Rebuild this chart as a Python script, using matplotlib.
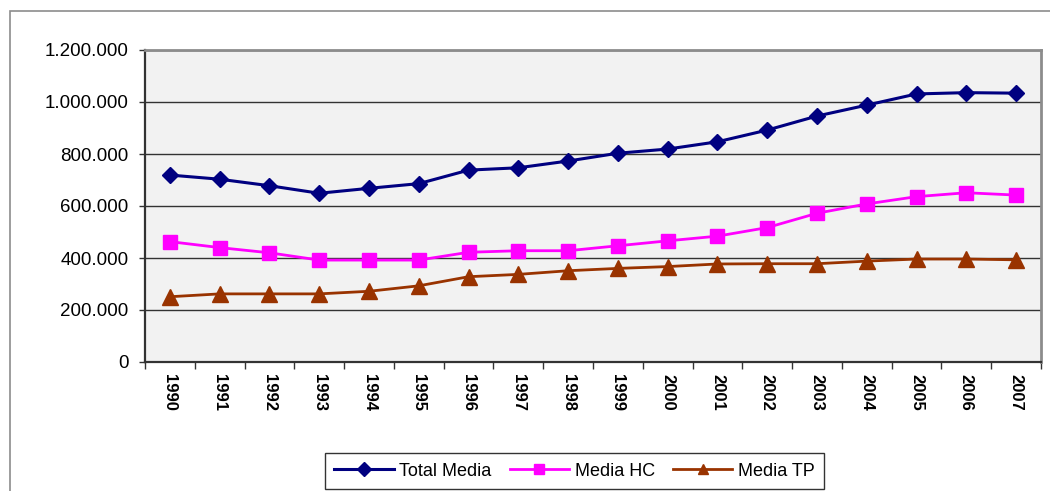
import numpy as np
import matplotlib
matplotlib.use("Agg")
import matplotlib.pyplot as plt
from matplotlib.ticker import FuncFormatter, FixedLocator
from matplotlib.patches import Rectangle

plt.rcParams['font.family'] = ['Liberation Sans', 'DejaVu Sans']

## data
years = [str(y) for y in range(1990, 2008)]
total_media = [719000, 703000, 678000, 649000, 668000, 686000, 738000, 747000, 773000,
               803000, 819000, 847000, 892000, 946000, 988000, 1031000, 1036000, 1034000]
media_hc = [463000, 440000, 420000, 392000, 392000, 392000, 422000, 428000, 428000,
            447000, 466000, 484000, 517000, 572000, 608000, 636000, 651000, 642000]
media_tp = [251000, 262000, 262000, 262000, 272000, 293000, 328000, 337000, 351000,
            360000, 367000, 377000, 378000, 378000, 388000, 396000, 396000, 393000]

fig = plt.figure(figsize=(10.5, 4.91), dpi=100)
fig.patch.set_facecolor('white')
# outer chart border
fig.patches.append(Rectangle((10/1050, -0.1), 1.2, 1 - 11/491 + 0.1,
                             transform=fig.transFigure, fill=False,
                             edgecolor='#8c8c8c', lw=1.2))

ax = fig.add_axes([145/1050, 1 - 362/491, (1041 - 145)/1050, (362 - 50)/491])
ax.set_facecolor('#F2F2F2')

x = np.arange(len(years))
ax.plot(x, total_media, color='#000080', lw=2.2, marker='D', ms=8,
        label='Total Media', zorder=5)
ax.plot(x, media_hc, color='#FF00FF', lw=2, marker='s', ms=10,
        label='Media HC', zorder=4)
ax.plot(x, media_tp, color='#993300', lw=2, marker='^', ms=11,
        label='Media TP', zorder=3)

ax.set_xlim(-0.5, len(years) - 0.5)
ax.set_ylim(0, 1200000)
ax.set_yticks(np.arange(0, 1200001, 200000))
ax.yaxis.set_major_formatter(FuncFormatter(lambda v, p: f"{int(v):,}".replace(',', '.')))
ax.grid(axis='y', color='#333333', lw=1)
ax.set_axisbelow(True)

ax.set_xticks(x)
ax.set_xticklabels(years, rotation=270, fontsize=12, fontweight='bold')
ax.xaxis.set_minor_locator(FixedLocator(np.arange(-0.5, len(years), 1)))
ax.tick_params(axis='x', which='major', length=0, pad=9)
ax.tick_params(axis='x', which='minor', length=5, width=1, color='#333333')
ax.tick_params(axis='y', length=4, width=1, color='#333333', pad=8, labelsize=13.5)

for s in ('left', 'bottom'):
    ax.spines[s].set_color('#333333')
    ax.spines[s].set_linewidth(1.6)
for s in ('top', 'right'):
    ax.spines[s].set_color('#8c8c8c')
    ax.spines[s].set_linewidth(2)

leg = fig.legend(loc='center', bbox_to_anchor=(574.5/1050, 1 - 471/491), ncol=3,
                 fontsize=13, frameon=True, fancybox=False, handlelength=3.3,
                 columnspacing=1.0, handletextpad=0.3, borderpad=0.5)
leg.get_frame().set_edgecolor('black')
leg.get_frame().set_linewidth(1)
for h in leg.legend_handles:
    h.set_markersize(7)

plt.savefig("out.png", dpi=100)
